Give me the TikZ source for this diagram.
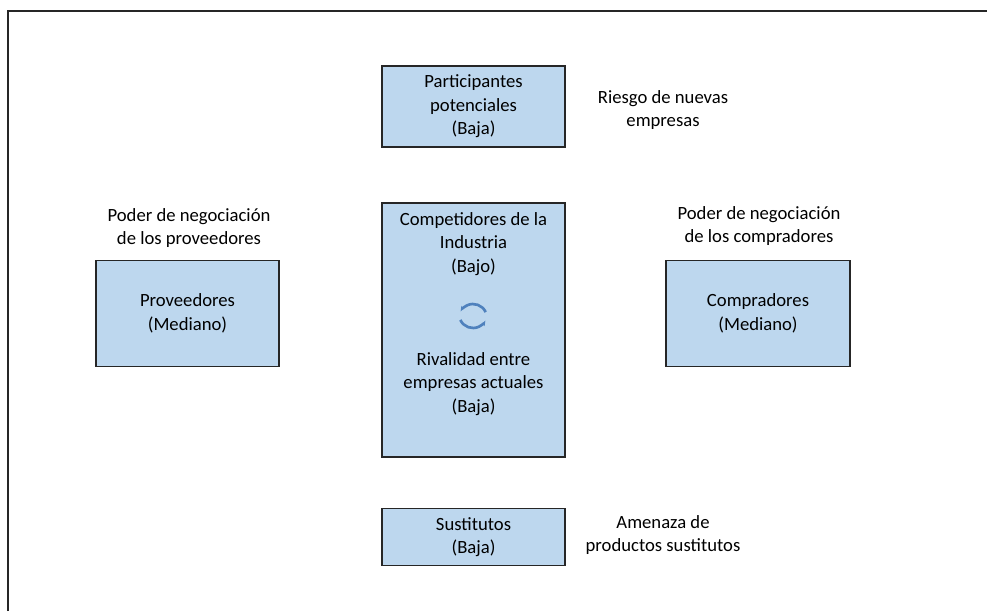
\documentclass[tikz,border=0pt]{standalone}
\usepackage{fontspec}
\setmainfont{Carlito}
\usetikzlibrary{positioning, arrows.meta}
\definecolor{boxblue}{RGB}{189,215,238}
\definecolor{iconblue}{RGB}{79,129,189}

\begin{document}
\begin{tikzpicture}[x=0.75pt, y=-0.75pt,
    every node/.style={font=\fontsize{14}{17.6}\selectfont, inner sep=0pt},
    fuerza/.style={draw=black!85, line width=1.1pt, fill=boxblue, align=center, minimum width=137.25pt},
    etiqueta/.style={align=center}]
        \useasboundingbox (0,0) rectangle (987,611);
        % marco
        \draw[black!85, line width=1.5pt] (8,611) -- (8,11) -- (987,11);
        % cajas
        \node[fuerza, minimum height=60.75pt] (participantes) at (473.5,106.5) {Participantes\\potenciales\\(Baja)};
        \node[fuerza, minimum height=190.5pt] (competidores) at (473.5,330) {};
        \node[fuerza, minimum height=79.5pt] (proveedores) at (187.5,313.5) {Proveedores\\(Mediano)};
        \node[fuerza, minimum height=79.5pt, minimum width=138pt] (compradores) at (758,313.5) {Compradores\\(Mediano)};
        \node[fuerza, minimum height=42.75pt] (sustitutos) at (473.5,537) {Sustitutos\\(Baja)};
        % textos de la caja central
        \node[etiqueta] (industria) at (473.5,244) {Competidores de la\\Industria\\(Bajo)};
        \node[etiqueta] (rivalidad) at (473.5,384) {Rivalidad entre\\empresas actuales\\(Baja)};
        \coordinate (cicloarriba) at (473,314);
        \coordinate (cicloabajo) at (473,318);
        \draw[iconblue, line width=2pt, -{Stealth[length=4pt]}] ([shift={(155:14)}]cicloarriba) arc[start angle=155, end angle=28, radius=14];
        \draw[iconblue, line width=2pt, -{Stealth[length=4pt]}] ([shift={(-25:14)}]cicloabajo) arc[start angle=-25, end angle=-152, radius=14];
        % etiquetas
        \node[etiqueta] (riesgo) at (663,110) {Riesgo de nuevas\\empresas};
        \node[etiqueta] (poderprov) at (189,228) {Poder de negociación\\de los proveedores};
        \node[etiqueta] (podercomp) at (759,226) {Poder de negociación\\de los compradores};
        \node[etiqueta] (amenaza) at (663,535) {Amenaza de\\productos sustitutos};
    \end{tikzpicture}
\end{document}
